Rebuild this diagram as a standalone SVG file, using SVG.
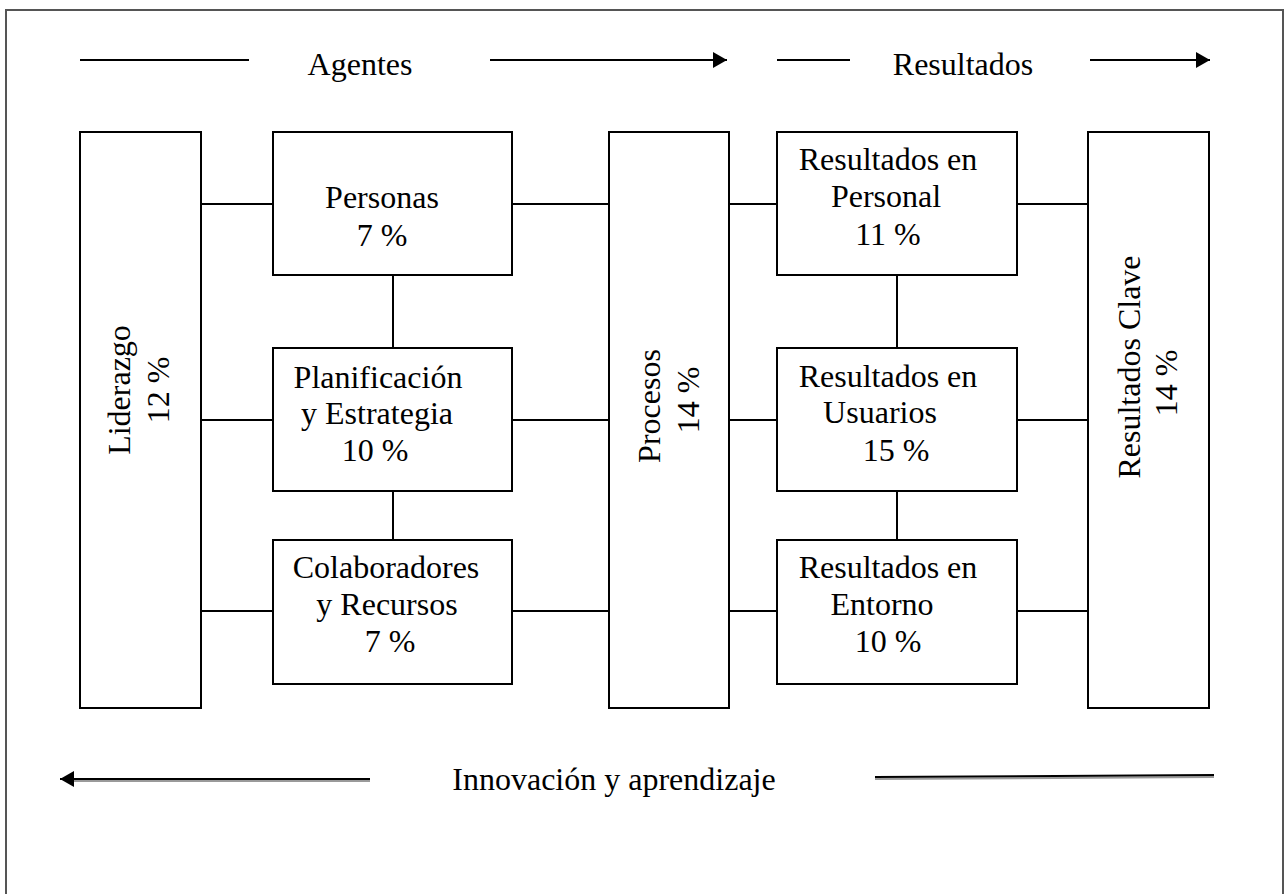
<svg xmlns="http://www.w3.org/2000/svg" width="1288" height="894" viewBox="0 0 1288 894">
<style>
.box{fill:#fff;stroke:#000;stroke-width:2}
.ln{stroke:#000;stroke-width:2;fill:none}
.sh{stroke:#9a9a9a;stroke-width:2;fill:none}
text{font-family:"Liberation Serif","Times New Roman",serif;font-size:32px;fill:#000;text-anchor:middle}
</style>
<defs>
<marker id="ah" markerUnits="userSpaceOnUse" markerWidth="16" markerHeight="18" refX="14" refY="8" orient="auto">
<path d="M0,0 L14,8 L0,16 z" fill="#000"/>
</marker>
</defs>
<rect x="0" y="0" width="1288" height="894" fill="#fff"/>
<rect id="frame" x="6" y="10" width="1277" height="910" fill="none" stroke="#555" stroke-width="2"/>

<g id="header">
<line class="ln" x1="80" y1="60" x2="249" y2="60"/>
<text x="360" y="75">Agentes</text>
<line class="ln" x1="490" y1="60" x2="727" y2="60" marker-end="url(#ah)"/>
<line class="ln" x1="777" y1="60" x2="850" y2="60"/>
<text x="963" y="75">Resultados</text>
<line class="ln" x1="1090" y1="60" x2="1210" y2="60" marker-end="url(#ah)"/>
</g>

<g id="connectors">
<line class="ln" x1="201" y1="204" x2="273" y2="204"/>
<line class="ln" x1="512" y1="204" x2="609" y2="204"/>
<line class="ln" x1="729" y1="204" x2="777" y2="204"/>
<line class="ln" x1="1017" y1="204" x2="1088" y2="204"/>
<line class="ln" x1="201" y1="420" x2="273" y2="420"/>
<line class="ln" x1="512" y1="420" x2="609" y2="420"/>
<line class="ln" x1="729" y1="420" x2="777" y2="420"/>
<line class="ln" x1="1017" y1="420" x2="1088" y2="420"/>
<line class="ln" x1="201" y1="611" x2="273" y2="611"/>
<line class="ln" x1="512" y1="611" x2="609" y2="611"/>
<line class="ln" x1="729" y1="611" x2="777" y2="611"/>
<line class="ln" x1="1017" y1="611" x2="1088" y2="611"/>
<line class="ln" x1="393" y1="275" x2="393" y2="348"/>
<line class="ln" x1="393" y1="491" x2="393" y2="540"/>
<line class="ln" x1="897" y1="275" x2="897" y2="348"/>
<line class="ln" x1="897" y1="491" x2="897" y2="540"/>
</g>

<g id="liderazgo">
<rect class="box" x="80" y="132" width="121" height="576"/>
<text transform="translate(130,390) rotate(-90)">Liderazgo</text>
<text transform="translate(169,390) rotate(-90)">12 %</text>
</g>

<g id="personas">
<rect class="box" x="273" y="132" width="239" height="143"/>
<text x="382" y="208">Personas</text>
<text x="382" y="246">7 %</text>
</g>

<g id="planificacion">
<rect class="box" x="273" y="348" width="239" height="143"/>
<text x="378" y="388">Planificación</text>
<text x="377" y="424">y Estrategia</text>
<text x="375" y="461">10 %</text>
</g>

<g id="colaboradores">
<rect class="box" x="273" y="540" width="239" height="144"/>
<text x="386" y="578">Colaboradores</text>
<text x="387" y="615">y Recursos</text>
<text x="390" y="652">7 %</text>
</g>

<g id="procesos">
<rect class="box" x="609" y="132" width="120" height="576"/>
<text transform="translate(660,406) rotate(-90)">Procesos</text>
<text transform="translate(699,400) rotate(-90)">14 %</text>
</g>

<g id="res-personal">
<rect class="box" x="777" y="132" width="240" height="143"/>
<text x="888" y="170">Resultados en</text>
<text x="886" y="207">Personal</text>
<text x="888" y="245">11 %</text>
</g>

<g id="res-usuarios">
<rect class="box" x="777" y="348" width="240" height="143"/>
<text x="888" y="387">Resultados en</text>
<text x="880" y="423">Usuarios</text>
<text x="896" y="461">15 %</text>
</g>

<g id="res-entorno">
<rect class="box" x="777" y="540" width="240" height="144"/>
<text x="888" y="578">Resultados en</text>
<text x="882" y="615">Entorno</text>
<text x="888" y="652">10 %</text>
</g>

<g id="res-clave">
<rect class="box" x="1088" y="132" width="121" height="576"/>
<text transform="translate(1140,367) rotate(-90)">Resultados Clave</text>
<text transform="translate(1177,383) rotate(-90)">14 %</text>
</g>

<g id="footer">
<line class="sh" x1="72" y1="781" x2="370" y2="781"/>
<line class="ln" x1="370" y1="779" x2="60" y2="779" marker-end="url(#ah)"/>
<text x="614" y="790">Innovación y aprendizaje</text>
<line class="sh" x1="875" y1="779" x2="1214" y2="777"/>
<line class="ln" x1="875" y1="777" x2="1214" y2="775"/>
</g>
</svg>
